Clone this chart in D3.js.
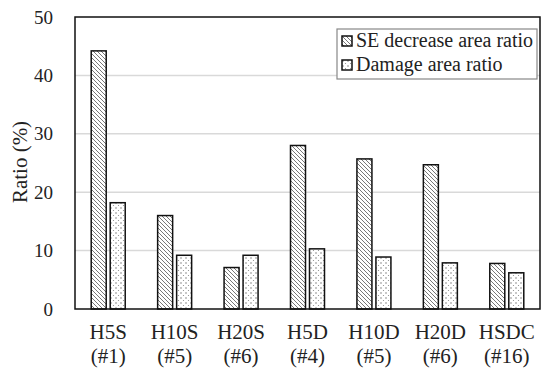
<!DOCTYPE html>
<html>
<head>
<meta charset="utf-8">
<script src="https://cdn.jsdelivr.net/npm/d3@7"></script>
<style>
  body { margin: 0; background: #fff; }
  svg text { font-family: "Times New Roman", "Liberation Serif", "DejaVu Serif", Times, serif !important; fill: #222; }
</style>
</head>
<body>
<svg id="chart" width="550" height="381"></svg>
<script>
// chart data
const categories = ["H5S", "H10S", "H20S", "H5D", "H10D", "H20D", "HSDC"];
const subLabels = ["(#1)", "(#5)", "(#6)", "(#4)", "(#5)", "(#6)", "(#16)"];
const seDecrease = [44.2, 16.0, 7.1, 28.0, 25.7, 24.7, 7.8];
const damage = [18.2, 9.2, 9.2, 10.3, 8.9, 7.9, 6.2];
const seriesNames = ["SE decrease area ratio", "Damage area ratio"];
const yTicks = [0, 10, 20, 30, 40, 50];

const margin = { top: 17, right: 10, bottom: 72, left: 75 };
const width = 540 - margin.left;
const height = 309 - margin.top;

const svg = d3.select("#chart");
const defs = svg.append("defs");

// hatch pattern (\\\)
const hatch = defs.append("pattern")
    .attr("id", "hatch")
    .attr("patternUnits", "userSpaceOnUse")
    .attr("width", 4).attr("height", 4);
hatch.append("rect").attr("width", 4).attr("height", 4).attr("fill", "#fff");
hatch.append("path")
    .attr("d", "M-1,-1 L5,5 M-1,3 L1,5 M3,-1 L5,1")
    .attr("stroke", "#555").attr("stroke-width", 0.8);

// dotted pattern
const dots = defs.append("pattern")
    .attr("id", "dots")
    .attr("patternUnits", "userSpaceOnUse")
    .attr("width", 5).attr("height", 5);
dots.append("rect").attr("width", 5).attr("height", 5).attr("fill", "#fff");
dots.append("circle").attr("cx", 1).attr("cy", 1).attr("r", 0.7).attr("fill", "#666");
dots.append("circle").attr("cx", 3.5).attr("cy", 3.5).attr("r", 0.6).attr("fill", "#888");

const g = svg.append("g").attr("transform", `translate(${margin.left},${margin.top})`);

const x = d3.scaleBand().domain(categories).range([0, width]).padding(0);
const y = d3.scaleLinear().domain([0, 50]).range([height, 0]);

// grid
g.append("g")
    .selectAll("line")
    .data(yTicks.filter(d => d > 0 && d < 50))
    .join("line")
    .attr("x1", 0).attr("x2", width)
    .attr("y1", d => y(d)).attr("y2", d => y(d))
    .attr("stroke", "#d9d9d9").attr("stroke-width", 1.5);

// y axis labels
const yAxis = g.append("g")
    .call(d3.axisLeft(y).tickValues(yTicks).tickSize(0).tickPadding(22))
    .attr("font-size", 19);
yAxis.select(".domain").remove();
yAxis.selectAll("text").attr("fill", "#222");

// bars
const barW = 15, gap = 4;
const series = [
  { values: seDecrease, fill: "url(#hatch)", offset: -barW - gap / 2 },
  { values: damage, fill: "url(#dots)", offset: gap / 2 }
];
series.forEach(s => {
  g.append("g")
    .selectAll("rect")
    .data(categories)
    .join("rect")
    .attr("x", (d, i) => x(d) + x.bandwidth() / 2 + s.offset)
    .attr("y", (d, i) => y(s.values[i]))
    .attr("width", barW)
    .attr("height", (d, i) => y(0) - y(s.values[i]))
    .attr("fill", s.fill)
    .attr("stroke", "#111")
    .attr("stroke-width", 1.5);
});

// plot border
g.append("rect")
    .attr("width", width).attr("height", height)
    .attr("fill", "none").attr("stroke", "#111").attr("stroke-width", 1.5);

// x labels
const xl = g.append("g").attr("font-size", 21);
categories.forEach((c, i) => {
  const cx = x(c) + x.bandwidth() / 2;
  xl.append("text").attr("x", cx).attr("y", height + 30)
    .attr("text-anchor", "middle").text(c);
  xl.append("text").attr("x", cx).attr("y", height + 54)
    .attr("text-anchor", "middle").text(subLabels[i]);
});

// y title
svg.append("text")
    .attr("transform", `translate(27,162) rotate(-90)`)
    .attr("text-anchor", "middle")
    .attr("font-size", 21)
    .text("Ratio (%)");

// legend
const lg = svg.append("g").attr("transform", "translate(337,29)").attr("font-size", 20);
lg.append("rect").attr("width", 200).attr("height", 50)
    .attr("fill", "#fff").attr("stroke", "#888").attr("stroke-width", 1.2);
[["url(#hatch)", seriesNames[0]], ["url(#dots)", seriesNames[1]]].forEach((d, i) => {
  const row = lg.append("g").attr("transform", `translate(5,${7 + i * 24})`);
  row.append("rect").attr("width", 10).attr("height", 10)
      .attr("fill", d[0]).attr("stroke", "#111").attr("stroke-width", 1.5);
  row.append("text").attr("x", 14).attr("y", 11).text(d[1]);
});
</script>
</body>
</html>
